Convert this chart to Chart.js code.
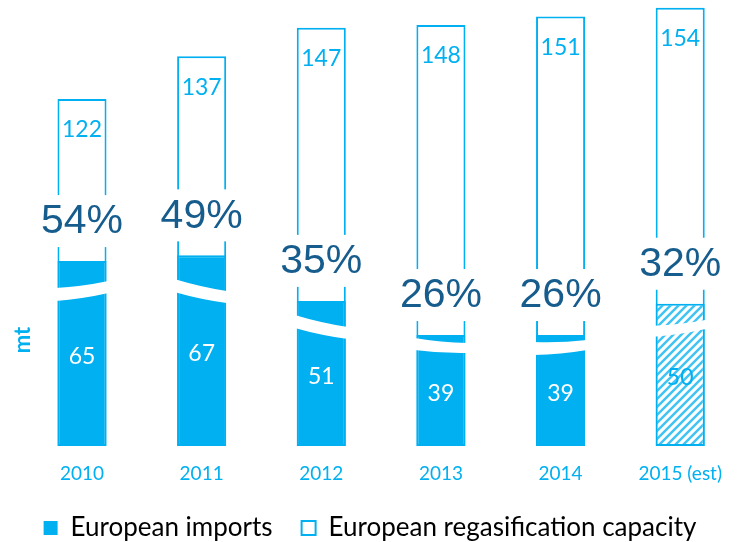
<!DOCTYPE html>
<html>
<head>
<meta charset="utf-8">
<script src="https://cdn.jsdelivr.net/npm/chart.js@4"></script>
<style>
  html, body { margin: 0; padding: 0; background: #fff; }
  #wrap { width: 740px; height: 542px; }
</style>
</head>
<body>
<div id="wrap"><canvas id="chart" width="740" height="542"></canvas></div>
<script>
// Data
var years = ['2010', '2011', '2012', '2013', '2014', '2015 (est)'];
var imports = [65, 67, 51, 39, 39, 50];
var capacity = [122, 137, 147, 148, 151, 154];
var shares = ['54%', '49%', '35%', '26%', '26%', '32%'];

var BLUE = '#00B0F0';
var DARK = '#165C8C';

// white "break" stripe across each imports bar: offsets from bar top
// [left top, right top, right bottom, left bottom]
var breakShape = [[27, 20, 32, 40], [24, 36, 48, 37], [14, 26, 38, 27], [3, 8, 18, 15], [7, 5, 15, 20], [22, 16, 25, 33]];

function hatch() {
    var c = document.createElement('canvas');
    c.width = 8; c.height = 8;
    var g = c.getContext('2d');
    g.fillStyle = '#fff';
    g.fillRect(0, 0, 8, 8);
    g.strokeStyle = '#40c4f4';
    g.lineWidth = 2.5;
    g.beginPath();
    g.moveTo(-1, 9); g.lineTo(9, -1);
    g.moveTo(-2, 2); g.lineTo(2, -2);
    g.moveTo(6, 10); g.lineTo(10, 6);
    g.stroke();
    return g.createPattern(c, 'repeat');
}

var importFill = imports.map(function (v, i) { return i === years.length - 1 ? hatch() : BLUE; });

// empty side axes just reserve room so the bars sit where they do in the picture
function spacer(position, w) {
    return {
        position: position,
        display: true,
        grid: { display: false, drawTicks: false },
        border: { display: false },
        ticks: { display: false },
        afterFit: function (s) { s.width = w; }
    };
}

var decorPlugin = {
    id: 'decor',
    afterDatasetsDraw: function (chart) {
        var ctx = chart.ctx;
        var imp = chart.getDatasetMeta(0);
        var cap = chart.getDatasetMeta(1);
        ctx.save();

        // break stripes
        imp.data.forEach(function (bar, i) {
            var p = bar.getProps(['x', 'y', 'width'], true);
            var l = p.x - p.width / 2 - 2, r = p.x + p.width / 2 + 2, b = breakShape[i];
            ctx.fillStyle = '#fff';
            ctx.beginPath();
            ctx.moveTo(l, p.y + b[0]);
            ctx.quadraticCurveTo(p.x, p.y + (b[0] + b[1]) / 2 + 2, r, p.y + b[1]);
            ctx.lineTo(r, p.y + b[2]);
            ctx.quadraticCurveTo(p.x, p.y + (b[2] + b[3]) / 2 + 2, l, p.y + b[3]);
            ctx.closePath();
            ctx.fill();
        });

        ctx.textAlign = 'center';
        ctx.textBaseline = 'middle';

        // values inside imports bars
        ctx.font = '23px Lato';
        imp.data.forEach(function (bar, i) {
            var p = bar.getProps(['x', 'y', 'base'], true);
            ctx.fillStyle = i === years.length - 1 ? BLUE : '#fff';
            ctx.fillText(String(imports[i]), p.x, (p.y + p.base) / 2 + 3);
        });

        // capacity values near the top
        cap.data.forEach(function (bar, i) {
            var p = bar.getProps(['x', 'y'], true);
            ctx.fillStyle = BLUE;
            ctx.fillText(String(capacity[i]), p.x, p.y + 31);
        });

        // share labels on a white box
        ctx.font = '41px "Liberation Sans"';
        imp.data.forEach(function (bar, i) {
            var p = bar.getProps(['x', 'y', 'width'], true);
            var cy = p.y - 40;
            var w = Math.max(ctx.measureText(shares[i]).width + 4, p.width + 8);
            ctx.fillStyle = '#fff';
            ctx.fillRect(p.x - w / 2, cy - 26, w, 52);
            ctx.fillStyle = DARK;
            ctx.fillText(shares[i], p.x, cy + 1);
        });

        // axis title
        ctx.translate(23, 340);
        ctx.rotate(-Math.PI / 2);
        ctx.font = 'bold 22px Lato';
        ctx.fillStyle = BLUE;
        ctx.fillText('mt', 0, 0);
        ctx.restore();
    }
};

var yLeft = spacer('left', 82);
yLeft.min = 0;
yLeft.max = 155;

var chart = new Chart(document.getElementById('chart'), {
    type: 'bar',
    data: {
        labels: years,
        datasets: [{
            label: 'European imports',
            data: imports,
            backgroundColor: importFill,
            borderColor: BLUE,
            borderWidth: 2,
            borderSkipped: false,
            grouped: false,
            clip: false,
            categoryPercentage: 1,
            barPercentage: 0.41
        }, {
            label: 'European regasification capacity',
            data: capacity,
            backgroundColor: '#fff',
            borderColor: BLUE,
            borderWidth: 2,
            borderSkipped: false,
            grouped: false,
            clip: false,
            categoryPercentage: 1,
            barPercentage: 0.41
        }]
    },
    options: {
        responsive: false,
        animation: false,
        layout: { padding: { left: 0, right: 0, top: 5, bottom: -9 } },
        scales: {
            x: {
                offset: false,
                grid: { display: false, drawTicks: false },
                border: { display: false },
                ticks: { color: BLUE, font: { family: 'Lato', size: 19, lineHeight: 1 }, padding: 18, maxRotation: 0 },
                afterFit: function (s) { s.height = 40; }
            },
            y: yLeft,
            yRight: spacer('right', 48)
        },
        plugins: {
            tooltip: { enabled: false },
            legend: {
                position: 'bottom',
                labels: {
                    color: BLUE,
                    font: { family: 'Lato', size: 26, lineHeight: 1 },
                    boxWidth: 14,
                    boxHeight: 14,
                    padding: 29,
                    generateLabels: function () {
                        return [
                            { text: 'European imports', fillStyle: BLUE, strokeStyle: BLUE, lineWidth: 0, datasetIndex: 0 },
                            { text: 'European regasification capacity', fillStyle: '#fff', strokeStyle: BLUE, lineWidth: 2, datasetIndex: 1 }
                        ];
                    }
                }
            }
        }
    },
    plugins: [decorPlugin]
});
</script>
</body>
</html>
